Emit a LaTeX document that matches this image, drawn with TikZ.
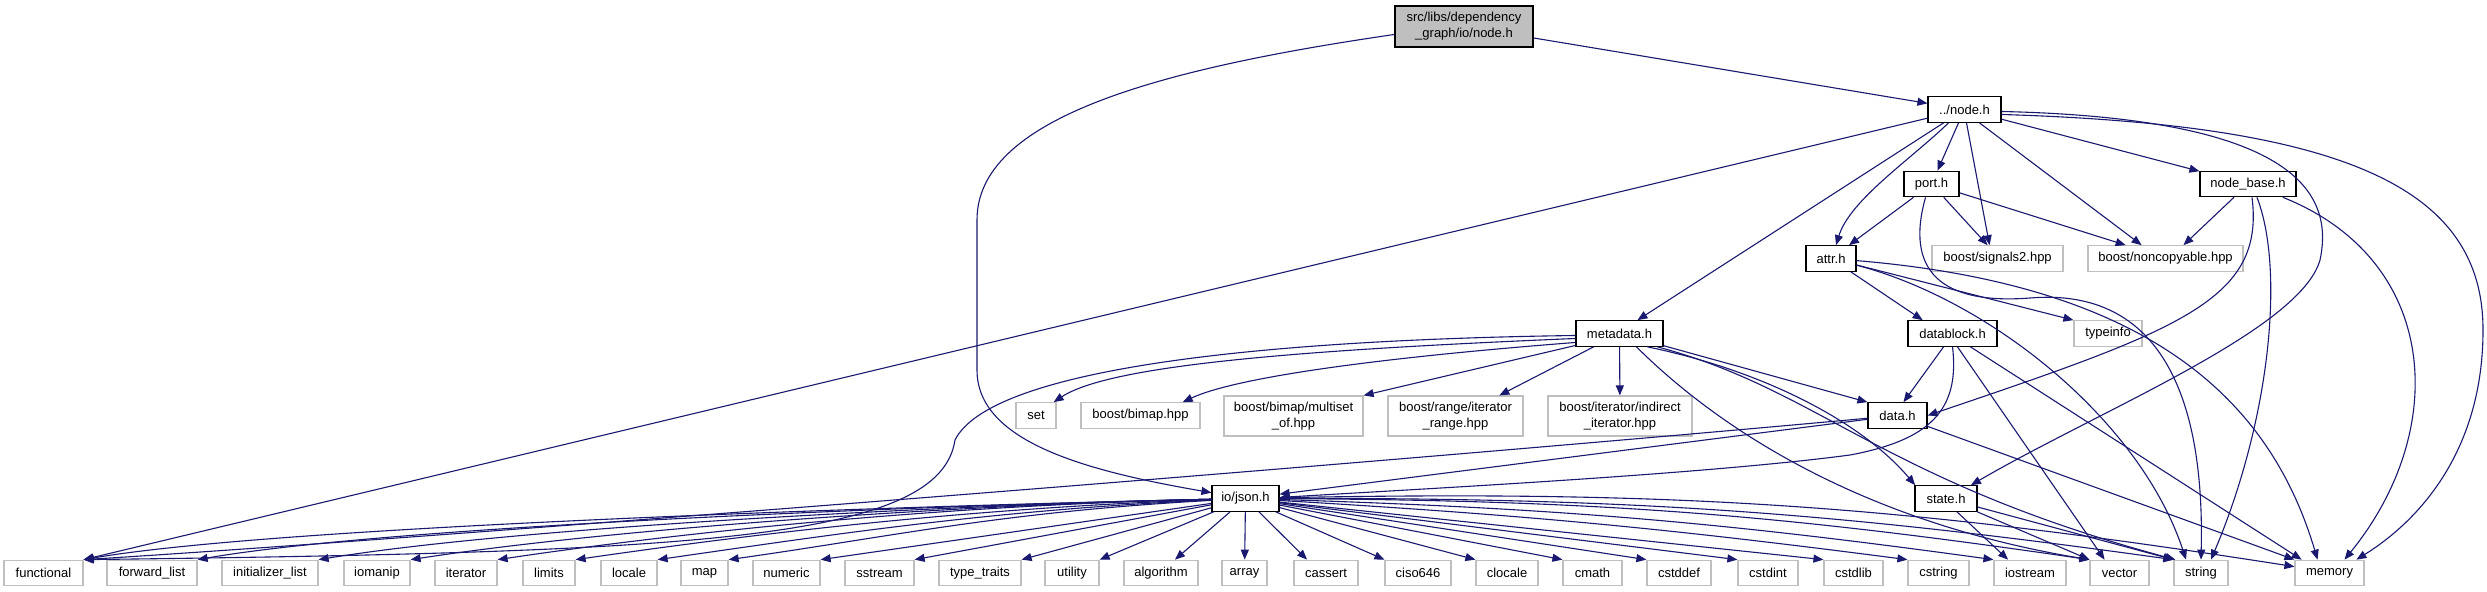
\documentclass[tikz,border=0pt]{standalone}
\usepackage{fontspec}
\setmainfont{Liberation Sans}
\usetikzlibrary{arrows.meta}
\definecolor{edgec}{HTML}{191970}
\definecolor{grey75}{HTML}{BFBFBF}
\begin{document}
\begin{tikzpicture}[x=1bp,y=-1bp,
  box/.style={font=\fontsize{13bp}{16bp}\selectfont, inner sep=0pt, minimum height=25.5bp, align=center, line width=1.2bp, fill=white},
  intn/.style={box, draw=black},
  extn/.style={box, draw=grey75},
  rootn/.style={box, draw=black, fill=grey75},
  dep/.style={draw=edgec, line width=1.1bp, -{Triangle[length=10bp,width=8bp]}}]
\useasboundingbox (0,0) rectangle (2487,592);
\fill[white] (0,0) rectangle (2487,592);
% ---------- nodes ----------
\node[rootn, minimum width=138bp, minimum height=41bp] (root) at (1464,26.5) {src/libs/dependency\\\_graph/io/node.h};
\node[intn, minimum width=73bp] (nodeh) at (1964.5,109.5) {../node.h};
\node[intn, minimum width=55bp] (port) at (1931.5,184) {port.h};
\node[intn, minimum width=96bp] (nodebase) at (2248,184) {node\_base.h};
\node[intn, minimum width=50bp] (attr) at (1831,258.5) {attr.h};
\node[extn, minimum width=131bp] (signals2) at (1997.5,258.5) {boost/signals2.hpp};
\node[extn, minimum width=155bp] (noncopyable) at (2165.5,258.5) {boost/noncopyable.hpp};
\node[intn, minimum width=87bp] (metadata) at (1619.5,333.5) {metadata.h};
\node[intn, minimum width=89bp] (datablock) at (1952.5,333.5) {datablock.h};
\node[extn, minimum width=68bp] (typeinfo) at (2108,333.5) {typeinfo};
\node[extn, minimum width=40bp] (set) at (1036,415.5) {set};
\node[extn, minimum width=119bp] (bimap) at (1140.5,415.5) {boost/bimap.hpp};
\node[extn, minimum width=139bp, minimum height=40bp] (multiset) at (1293.5,416) {boost/bimap/multiset\\\_of.hpp};
\node[extn, minimum width=135bp, minimum height=40bp] (iterrange) at (1455.5,416) {boost/range/iterator\\\_range.hpp};
\node[extn, minimum width=144bp, minimum height=40bp] (indirect) at (1620,416) {boost/iterator/indirect\\\_iterator.hpp};
\node[intn, minimum width=59bp] (data) at (1897.5,415.5) {data.h};
\node[intn, minimum width=67bp] (json) at (1245.5,498.5) {io/json.h};
\node[intn, minimum width=62bp] (state) at (1946,498.5) {state.h};
% bottom row
\node[extn, minimum width=79bp] (functional) at (43.5,573) {functional};
\node[extn, minimum width=90bp] (forwardlist) at (152,573) {forward\_list};
\node[extn, minimum width=96bp] (initlist) at (270,573) {initializer\_list};
\node[extn, minimum width=66bp] (iomanip) at (377,573) {iomanip};
\node[extn, minimum width=62bp] (iterator) at (466,573) {iterator};
\node[extn, minimum width=52bp] (limits) at (549,573) {limits};
\node[extn, minimum width=56bp] (locale) at (629,573) {locale};
\node[extn, minimum width=47bp] (map) at (704.5,573) {map};
\node[extn, minimum width=67bp] (numeric) at (786.5,573) {numeric};
\node[extn, minimum width=69bp] (sstream) at (879.5,573) {sstream};
\node[extn, minimum width=82bp] (typetraits) at (980,573) {type\_traits};
\node[extn, minimum width=54bp] (utility) at (1072,573) {utility};
\node[extn, minimum width=74bp] (algorithm) at (1161,573) {algorithm};
\node[extn, minimum width=45bp] (array) at (1244.5,573) {array};
\node[extn, minimum width=64bp] (cassert) at (1326,573) {cassert};
\node[extn, minimum width=66bp] (ciso) at (1418,573) {ciso646};
\node[extn, minimum width=62bp] (clocale) at (1507,573) {clocale};
\node[extn, minimum width=59bp] (cmath) at (1592.5,573) {cmath};
\node[extn, minimum width=64bp] (cstddef) at (1679,573) {cstddef};
\node[extn, minimum width=60bp] (cstdint) at (1768,573) {cstdint};
\node[extn, minimum width=59bp] (cstdlib) at (1853.5,573) {cstdlib};
\node[extn, minimum width=61bp] (cstring) at (1938.5,573) {cstring};
\node[extn, minimum width=72bp] (iostream) at (2030,573) {iostream};
\node[extn, minimum width=59bp] (vector) at (2119.5,573) {vector};
\node[extn, minimum width=54bp] (string) at (2201,573) {string};
\node[extn, minimum width=69bp] (memory) at (2329.5,573) {memory};
% ---------- edges ----------
% root
\draw[dep] (root) -- (nodeh);
\draw[dep] ([yshift=-8]root.west) .. controls (1150,70) and (977,120) .. (977,220) -- (977,370) .. controls (977,440) and (1080,470) .. (json);
% ../node.h
\draw[dep] (nodeh) -- (functional.north east);
\draw[dep] ([xshift=-21]nodeh.south) -- ([xshift=18]metadata.north);
\draw[dep] ([xshift=-16]nodeh.south) .. controls (1910,160) and (1850,200) .. ([xshift=5]attr.north);
\draw[dep] ([xshift=-6]nodeh.south) -- ([xshift=6]port.north);
\draw[dep] ([xshift=2]nodeh.south) -- ([xshift=-8]signals2.north);
\draw[dep] ([xshift=15]nodeh.south) -- ([xshift=-24]noncopyable.north);
\draw[dep] (nodeh) -- (nodebase);
\draw[dep] ([yshift=-2]nodeh.east) .. controls (2290,118) and (2335,190) .. (2320,260) .. controls (2300,330) and (2100,410) .. ([xshift=25]state.north);
\draw[dep] ([yshift=-5]nodeh.east) .. controls (2350,125) and (2483,190) .. (2483,330) .. controls (2483,450) and (2420,520) .. ([xshift=27]memory.north);
% port.h
\draw[dep] (port) -- (attr);
\draw[dep] (port) -- ([xshift=-10]signals2.north);
\draw[dep] (port) -- ([xshift=-40]noncopyable.north);
\draw[dep] ([xshift=-6]port.south) .. controls (1905,270) and (1940,305) .. (2030,298) .. controls (2150,288) and (2205,380) .. (string.north);
% node_base.h
\draw[dep] (nodebase) -- ([xshift=18]noncopyable.north);
\draw[dep] ([xshift=4]nodebase.south) .. controls (2265,300) and (2180,330) .. (data.east);
\draw[dep] ([xshift=9]nodebase.south) .. controls (2285,270) and (2270,420) .. ([xshift=10]string.north);
\draw[dep] ([xshift=35]nodebase.south) .. controls (2440,260) and (2450,430) .. ([xshift=15]memory.north);
% attr.h
\draw[dep] (attr) -- ([xshift=-30]datablock.north);
\draw[dep] (attr) -- (typeinfo.north west);
\draw[dep] (attr) .. controls (1990,300) and (2140,420) .. ([xshift=-15]string.north);
\draw[dep] (attr) .. controls (2150,285) and (2270,400) .. ([xshift=-12]memory.north);
% datablock.h
\draw[dep] ([xshift=-9]datablock.south) -- ([xshift=6]data.north);
\draw[dep] (datablock.south) .. controls (1960,410) and (1930,440) .. (1850,455) .. controls (1700,475) and (1400,490) .. ([yshift=1]json.east);
\draw[dep] ([xshift=5]datablock.south) -- ([xshift=-15]vector.north);
\draw[dep] ([xshift=18]datablock.south) -- ([xshift=-28]memory.north);
% metadata.h
\draw[dep] ([yshift=-2]metadata.west) .. controls (1250,340) and (990,370) .. (955,440) .. controls (940,540) and (700,552) .. (functional.north east);
\draw[dep] ([yshift=-5]metadata.west) .. controls (1300,350) and (1110,365) .. ([xshift=-3]set.north east);
\draw[dep] ([yshift=-9]metadata.west) .. controls (1350,360) and (1230,380) .. ([xshift=-18]bimap.north east);
\draw[dep] ([yshift=-12]metadata.west) -- (multiset.north east);
\draw[dep] ([xshift=-26]metadata.south) -- ([xshift=44]iterrange.north);
\draw[dep] (metadata) -- (indirect);
\draw[dep] (metadata) -- (data.north west);
\draw[dep] ([xshift=28]metadata.south) .. controls (1760,370) and (1860,420) .. ([xshift=-31]state.north);
\draw[dep] ([xshift=17]metadata.south) .. controls (1710,420) and (1850,520) .. (vector.north west);
\draw[dep] ([xshift=38]metadata.south) .. controls (1820,390) and (1880,480) .. ([xshift=2]string.north west);
% data.h
\draw[dep] (data) -- (json);
\draw[dep] (data) .. controls (1300,470) and (400,540) .. (functional.north east);
\draw[dep] (data) -- (memory.north west);
% state.h
\draw[dep] ([xshift=11]state.south) -- ([xshift=-22]iostream.north);
\draw[dep] (state) -- (vector.north west);
\draw[dep] (state) -- (string.north west);
% io/json.h
\draw[dep] (json) .. controls (950,505) and (283,525) .. (functional.north east);
\draw[dep] (json) .. controls (950,505) and (397,525) .. (forwardlist.north east);
\draw[dep] (json) .. controls (950,505) and (518,527) .. (initlist.north east);
\draw[dep] (json) .. controls (950,505) and (610,529) .. (iomanip.north east);
\draw[dep] (json) .. controls (950,505) and (690,531) .. (iterator.north east);
\draw[dep] (json) .. controls (970,508) and (760,533) .. (limits.north east);
\draw[dep] (json) .. controls (990,510) and (830,535) .. (locale.north east);
\draw[dep] (json) .. controls (1000,512) and (890,537) .. (map.north east);
\draw[dep] (json) -- (numeric.north east);
\draw[dep] (json) -- (sstream.north east);
\draw[dep] (json) -- (typetraits.north east);
\draw[dep] (json) -- (utility.north east);
\draw[dep] (json) -- ([xshift=14]algorithm.north);
\draw[dep] (json) -- (array);
\draw[dep] (json) -- ([xshift=-19]cassert.north);
\draw[dep] (json) -- (ciso.north west);
\draw[dep] (json) -- (clocale.north west);
\draw[dep] (json) -- (cmath.north west);
\draw[dep] (json) -- (cstddef.north west);
\draw[dep] (json) -- (cstdint.north west);
\draw[dep] (json) -- (cstdlib.north west);
\draw[dep] (json) to[bend left=2] (cstring.north west);
\draw[dep] (json) to[bend left=3] (iostream.north west);
\draw[dep] (json) to[bend left=4] (vector.north west);
\draw[dep] (json) to[bend left=4] (string.north west);
\draw[dep] (json) to[bend left=5] ([yshift=-7]memory.north west);
\end{tikzpicture}
\end{document}
